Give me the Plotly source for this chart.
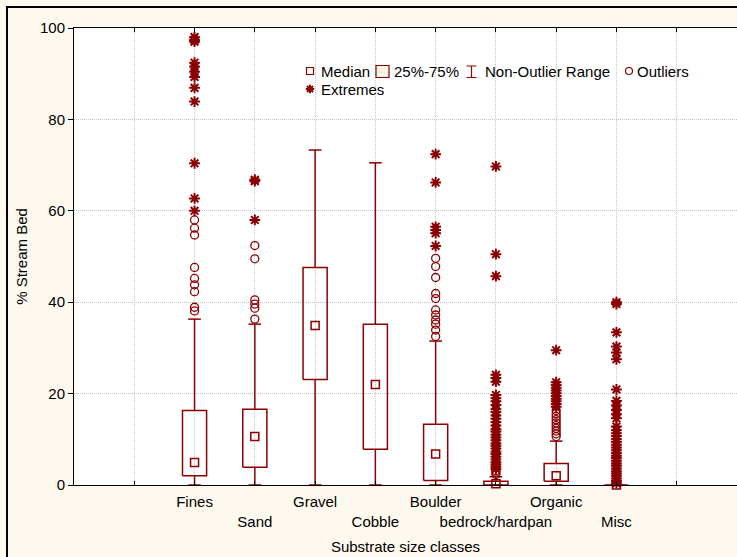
import plotly.graph_objects as go

# ---------------- data ----------------
categories = ["Fines", "Sand", "Gravel", "Cobble", "Boulder",
              "bedrock/hardpan", "Organic", "Misc"]
medians = [4.9, 10.6, 34.9, 22.0, 6.8, 0.3, 2.0, 0.0]
q1 = [2.0, 3.9, 23.1, 7.8, 1.0, 0.0, 0.8, 0.0]
q3 = [16.3, 16.6, 47.6, 35.2, 13.3, 0.8, 4.7, 0.0]
non_outlier_min = [0.0, 0.0, 0.0, 0.0, 0.0, 0.0, 0.0, 0.0]
non_outlier_max = [36.3, 35.2, 73.3, 70.5, 31.5, 1.8, 9.6, 0.0]

outliers = [
    [58.0, 56.2, 54.7, 47.6, 45.2, 43.8, 42.3, 38.9, 38.1],
    [52.4, 49.5, 40.5, 39.6, 38.7, 36.3],
    [],
    [],
    [49.6, 47.8, 45.4, 41.9, 40.8, 38.3, 37.2, 36.1, 35.2, 33.9, 32.5],
    [2.3, 2.8, 3.1],
    [10.6, 11.2, 11.8, 12.4, 13.0, 13.6, 14.3, 15.0, 15.6, 16.3],
    [],
]
extremes = [
    [98.0, 97.4, 97.0, 92.4, 91.5, 90.4, 89.3, 86.9, 83.9, 70.4, 62.7, 60.0],
    [66.8, 66.5, 58.0],
    [],
    [],
    [72.4, 66.2, 56.5, 55.8, 55.1, 52.3],
    [3.5, 4.0, 4.5, 5.0, 5.6, 6.2, 6.8, 7.3, 8.0, 8.6, 9.1, 9.8, 10.4, 11.0,
     11.7, 12.2, 13.0, 13.8, 14.5, 15.2, 16.0, 16.6, 17.5, 18.3, 19.0, 19.7,
     22.6, 23.4, 24.1, 45.7, 50.5, 69.7],
    [17.1, 17.7, 18.3, 18.9, 19.5, 20.1, 20.7, 21.3, 21.9, 22.5, 29.5],
    [0.4, 0.9, 1.4, 2.0, 2.5, 3.0, 3.6, 4.2, 4.7, 5.3, 5.9, 6.4, 7.0, 7.6,
     8.2, 8.8, 9.4, 10.0, 10.7, 11.3, 12.0, 12.8, 14.6, 15.5, 16.4, 17.4,
     18.4, 20.9, 27.5, 29.0, 30.3, 33.4, 39.6, 40.0],
]
y_ticks = [0, 20, 40, 60, 80, 100]
legend_labels = ["Median", "25%-75%", "Non-Outlier Range", "Outliers", "Extremes"]

# ---------------- style ----------------
DR = "#8B0000"
FONT = "Liberation Sans, Arial, sans-serif"
W, H = 737, 557
ML, MR, MT, MB = 74, 0, 28, 72
BOX_HALF = 0.2
CAP_HALF = 0.105
GRID = "#C4C4C4"

positions = list(range(1, len(categories) + 1))

# boxes
bx, by = [], []
for p, lo, hi in zip(positions, q1, q3):
    bx += [p - BOX_HALF, p + BOX_HALF, p + BOX_HALF, p - BOX_HALF, p - BOX_HALF, None]
    by += [lo, lo, hi, hi, lo, None]

# whiskers
wx, wy = [], []
for p, lo, hi, wlo, whi in zip(positions, q1, q3, non_outlier_min, non_outlier_max):
    wx += [p, p, None, p, p, None]
    wy += [hi, whi, None, lo, wlo, None]
    wx += [p - CAP_HALF, p + CAP_HALF, None, p - CAP_HALF, p + CAP_HALF, None]
    wy += [whi, whi, None, wlo, wlo, None]

ox, oy, ex, ey = [], [], [], []
for p, o, e in zip(positions, outliers, extremes):
    ox += [p] * len(o)
    oy += o
    ex += [p] * len(e)
    ey += e

fig = go.Figure()
fig.add_trace(go.Scatter(x=wx, y=wy, mode="lines", line=dict(color=DR, width=1.5),
                         name=legend_labels[2], showlegend=False, hoverinfo="skip"))
fig.add_trace(go.Scatter(x=bx, y=by, mode="lines", line=dict(color=DR, width=1.5),
                         name=legend_labels[1], showlegend=False, hoverinfo="skip"))
fig.add_trace(go.Scatter(x=positions, y=medians, mode="markers",
                         marker=dict(symbol="square-open", size=8, color=DR,
                                     line=dict(width=1.5, color=DR)),
                         name=legend_labels[0], showlegend=False, cliponaxis=False))
fig.add_trace(go.Scatter(x=ox, y=oy, mode="markers",
                         marker=dict(symbol="circle-open", size=8, color=DR,
                                     line=dict(width=1.3, color=DR)),
                         name=legend_labels[3], showlegend=False, cliponaxis=False))
fig.add_trace(go.Scatter(x=ex, y=ey, mode="markers",
                         marker=dict(symbol="asterisk-open", size=9, color=DR,
                                     line=dict(width=2, color=DR)),
                         name=legend_labels[4], showlegend=False, cliponaxis=False))

ticktext = [""] + [c if i % 2 == 0 else "<br>" + c for i, c in enumerate(categories)] + [""]

fig.update_layout(
    width=W, height=H, autosize=False,
    margin=dict(l=ML, r=MR, t=MT, b=MB, pad=0),
    paper_bgcolor="#FDF9EF", plot_bgcolor="white",
    font=dict(family=FONT, size=15, color="black"),
    showlegend=False,
    xaxis=dict(range=[-1, 10], tickmode="array", tickvals=list(range(0, 10)),
               ticktext=ticktext, tickangle=0, automargin=False,
               showgrid=True, gridcolor=GRID, griddash="1px,1px",
               gridwidth=1, showline=True, linecolor="black", linewidth=1,
               mirror="ticks", ticks="inside", ticklen=4, tickcolor="black",
               zeroline=False, tickfont=dict(size=15), ticklabelstandoff=3,
               title=dict(text="Substrate size classes", font=dict(size=15), standoff=12)),
    yaxis=dict(range=[0, 100], tickmode="array", tickvals=y_ticks, automargin=False,
               showgrid=True, gridcolor=GRID, griddash="1px,1px", gridwidth=1,
               showline=True, linecolor="black", linewidth=1, mirror=False,
               ticks="outside", ticklen=5, tickcolor="black", zeroline=False,
               tickfont=dict(size=15),
               title=dict(text="% Stream Bed", font=dict(size=15), standoff=8)),
)

# ---------------- legend (drawn in paper space) ----------------
PW, PH = W - ML - MR, H - MT - MB


def px(p):
    return (p - ML) / PW


def py(p):
    return (H - MB - p) / PH


shapes = []
# outer frame of the graph window
shapes.append(dict(type="rect", xref="paper", yref="paper", x0=px(7), x1=px(W + 20),
                   y0=py(H + 20), y1=py(7), line=dict(color="black", width=2),
                   fillcolor="rgba(0,0,0,0)", layer="above"))
row1, row2 = 71, 89
# median
shapes.append(dict(type="rect", xref="paper", yref="paper", x0=px(306.5), x1=px(313.5),
                   y0=py(row1 + 3.5), y1=py(row1 - 3.5), line=dict(color=DR, width=1.2)))
# 25-75 box
shapes.append(dict(type="rect", xref="paper", yref="paper", x0=px(376), x1=px(389),
                   y0=py(row1 + 6.5), y1=py(row1 - 5.5), line=dict(color=DR, width=1.2),
                   fillcolor="#FDF3E3"))
# non-outlier range I-beam
ib = 471.5
shapes.append(dict(type="path", xref="paper", yref="paper",
                   path=(f"M{px(ib)},{py(row1-5)} L{px(ib)},{py(row1+6.5)} "
                         f"M{px(ib-5)},{py(row1-5)} L{px(ib+5)},{py(row1-5)} "
                         f"M{px(ib-5)},{py(row1+6.5)} L{px(ib+5)},{py(row1+6.5)}"),
                   line=dict(color=DR, width=1.2)))
# outlier circle
shapes.append(dict(type="circle", xref="paper", yref="paper", x0=px(625.5), x1=px(632.5),
                   y0=py(row1 + 3.5), y1=py(row1 - 3.5), line=dict(color=DR, width=1.2)))
# extremes asterisk
cx, cy, r = 310, row2, 4.2
d = r * 0.72
shapes.append(dict(type="path", xref="paper", yref="paper",
                   path=(f"M{px(cx)},{py(cy-r)} L{px(cx)},{py(cy+r)} "
                         f"M{px(cx-r)},{py(cy)} L{px(cx+r)},{py(cy)} "
                         f"M{px(cx-d)},{py(cy-d)} L{px(cx+d)},{py(cy+d)} "
                         f"M{px(cx-d)},{py(cy+d)} L{px(cx+d)},{py(cy-d)}"),
                   line=dict(color=DR, width=2)))
fig.update_layout(shapes=shapes)

label_pos = [(320, row1), (393, row1), (484, row1), (636, row1), (320, row2)]
for txt, (lx, ly) in zip(legend_labels, label_pos):
    fig.add_annotation(text=txt, xref="paper", yref="paper", x=px(lx), y=py(ly),
                       xanchor="left", yanchor="middle", showarrow=False,
                       font=dict(size=15, color="black"), borderpad=0)

fig.write_html("out.html", config={"displayModeBar": False})
